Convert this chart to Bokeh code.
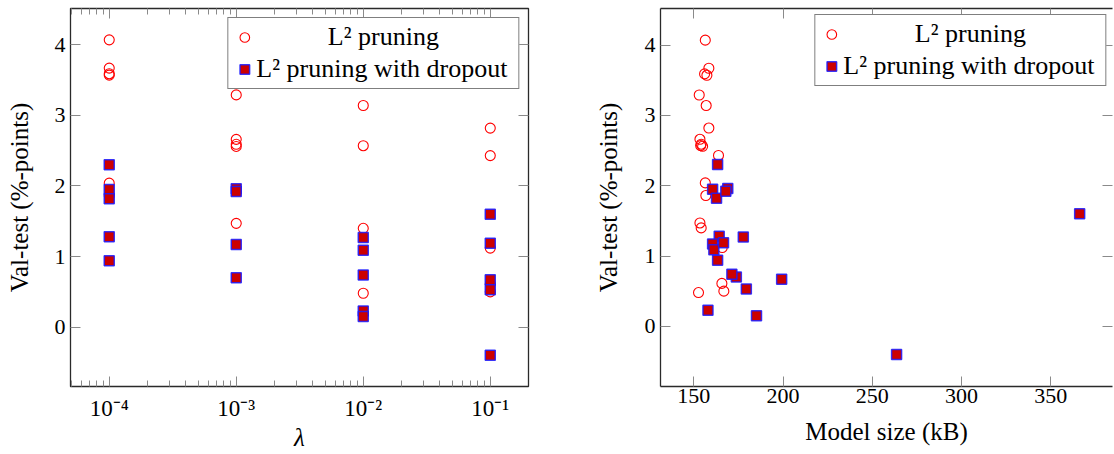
from bokeh.plotting import figure
from bokeh.models import (FixedTicker, LogAxis, LinearAxis, Legend, LegendItem,
                          ColumnDataSource)
from bokeh.layouts import row
from bokeh.embed import file_html
from bokeh.resources import INLINE

FONT = "Liberation Serif"

# ---------------- data ----------------
# L2 pruning (red hollow circles)
circ_lambda = [1e-4, 1e-4, 1e-4, 1e-4, 1e-4, 1e-4,
               1e-3, 1e-3, 1e-3, 1e-3, 1e-3,
               1e-2, 1e-2, 1e-2, 1e-2,
               1e-1, 1e-1, 1e-1, 1e-1, 1e-1]
circ_val = [4.07, 3.67, 3.59, 3.57, 2.04, 1.86,
            3.29, 2.66, 2.59, 2.56, 1.47,
            3.14, 2.57, 1.40, 0.48,
            2.82, 2.43, 1.12, 0.61, 0.50]
circ_size = [156.4, 158.4, 156.0, 157.3, 156.4, 156.7,
             153.0, 153.4, 154.1, 154.9, 153.4,
             156.9, 153.8, 154.1, 152.6,
             158.4, 163.8, 165.9, 165.7, 166.8]

# L2 pruning with dropout (red filled squares, blue edge)
sq_lambda = [1e-4, 1e-4, 1e-4, 1e-4, 1e-4,
             1e-3, 1e-3, 1e-3, 1e-3,
             1e-2, 1e-2, 1e-2, 1e-2, 1e-2,
             1e-1, 1e-1, 1e-1, 1e-1, 1e-1]
sq_val = [2.30, 1.95, 1.82, 1.28, 0.94,
          1.96, 1.92, 1.17, 0.70,
          1.27, 1.09, 0.74, 0.23, 0.15,
          1.60, 1.19, 0.67, 0.53, -0.40]
sq_size = [163.3, 160.5, 162.7, 164.2, 163.3,
           169.0, 167.9, 160.5, 173.8,
           177.7, 161.2, 171.3, 157.9, 185.1,
           366.2, 166.6, 199.2, 179.4, 263.6]

lam_ticks = [1e-4, 1e-3, 1e-2, 1e-1]
lam_tick_labels = ["10⁻⁴", "10⁻³", "10⁻²", "10⁻¹"]
size_ticks = [150, 200, 250, 300, 350]
val_ticks = [0, 1, 2, 3, 4]

label_circ = "L² pruning"
label_sq = "L² pruning with dropout"
y_label = "Val-test (%-points)"
x_label_left = "λ"
x_label_right = "Model size (kB)"

lam_minor = [m * 10.0 ** e for e in range(-5, 0) for m in range(2, 10)]

LAM_LO, LAM_HI = -4.305, -0.699          # log10 limits
SIZE_LO, SIZE_HI = 131.3, 384.6
VAL_LO, VAL_HI = -0.841, 4.514
VAL_LO2, VAL_HI2 = -0.856, 4.52

TICK_COLOR = "#8a8a8a"
FRAME_COLOR = "#2a2a2a"


def style_axis(ax, labels=True):
    ax.major_tick_in = 10
    ax.major_tick_out = 0
    ax.minor_tick_in = 6
    ax.minor_tick_out = 0
    ax.major_tick_line_color = TICK_COLOR
    ax.minor_tick_line_color = TICK_COLOR
    ax.major_tick_line_width = 1
    ax.minor_tick_line_width = 1
    if labels:
        ax.major_label_text_font = FONT
        ax.major_label_text_font_size = "22px"
        ax.major_label_text_color = "black"
        ax.axis_label_text_font = FONT
        ax.axis_label_text_font_size = "25px"
        ax.axis_label_text_font_style = "normal"
        ax.axis_label_text_color = "black"
    else:
        ax.major_label_text_font_size = "1px"
        ax.major_label_text_alpha = 0
        ax.major_label_standoff = 0


def make_legend(p, r1, r2, margin):
    pad = "\u00a0" * 11
    legend = Legend(items=[LegendItem(label=pad + label_circ, renderers=[r1]),
                           LegendItem(label=label_sq + "\u00a0", renderers=[r2])],
                    location="top_right")
    legend.margin = margin
    legend.padding = 4
    legend.spacing = 2
    legend.label_height = 30
    legend.glyph_height = 26
    legend.glyph_width = 24
    legend.label_standoff = 0
    legend.label_text_font = FONT
    legend.label_text_font_size = "26px"
    legend.label_text_color = "black"
    legend.border_line_color = "black"
    legend.border_line_width = 1
    legend.background_fill_color = "white"
    legend.background_fill_alpha = 1
    p.add_layout(legend)


def draw(p, xc, yc, xs, ys):
    src_c = ColumnDataSource(dict(x=xc, y=yc))
    src_s = ColumnDataSource(dict(x=xs, y=ys))
    r1 = p.scatter("x", "y", source=src_c, marker="circle", size=10,
                   fill_color=None, line_color="#ff0000", line_width=1.1)
    r2 = p.scatter("x", "y", source=src_s, marker="square", size=10,
                   fill_color="#cc0000", line_color="#1a1aff", line_width=1.5,
                   line_alpha=0.85)
    return r1, r2


# ---------------- left: lambda ----------------
p1 = figure(width=540, height=454, x_axis_type="log",
            x_range=(10 ** LAM_LO, 10 ** LAM_HI), y_range=(VAL_LO, VAL_HI),
            output_backend="svg", toolbar_location=None,
            min_border_left=70, min_border_right=12,
            min_border_top=8, min_border_bottom=66)
p1.xgrid.grid_line_color = None
p1.ygrid.grid_line_color = None
p1.outline_line_color = FRAME_COLOR
p1.outline_line_width = 1.3
p1.background_fill_color = "white"
p1.border_fill_color = "white"

p1.xaxis.ticker = FixedTicker(ticks=lam_ticks, minor_ticks=lam_minor)
p1.xaxis.major_label_overrides = dict(zip(lam_ticks, lam_tick_labels))
p1.yaxis.ticker = FixedTicker(ticks=val_ticks)
p1.xaxis.axis_label = x_label_left
p1.yaxis.axis_label = y_label
for ax in p1.xaxis + p1.yaxis:
    style_axis(ax)
    ax.axis_line_color = None
p1.xaxis.axis_label_text_font_style = "italic"
p1.xaxis.major_label_text_font_size = "23px"
p1.xaxis.major_label_standoff = 9
p1.xaxis.axis_label_standoff = 0
p1.yaxis.major_label_standoff = 5
p1.yaxis.axis_label_standoff = 19

top1 = LogAxis(ticker=FixedTicker(ticks=lam_ticks, minor_ticks=lam_minor))
style_axis(top1, labels=False)
top1.axis_line_color = None
p1.add_layout(top1, "above")
right1 = LinearAxis(ticker=FixedTicker(ticks=val_ticks))
style_axis(right1, labels=False)
right1.axis_line_color = None
p1.add_layout(right1, "right")

c1, s1 = draw(p1, circ_lambda, circ_val, sq_lambda, sq_val)
make_legend(p1, c1, s1, 9)

# ---------------- right: model size ----------------
p2 = figure(width=574, height=454,
            x_range=(SIZE_LO, SIZE_HI), y_range=(VAL_LO2, VAL_HI2),
            output_backend="svg", toolbar_location=None,
            min_border_left=120, min_border_right=2,
            min_border_top=5, min_border_bottom=68)
p2.xgrid.grid_line_color = None
p2.ygrid.grid_line_color = None
p2.outline_line_color = None
p2.background_fill_color = "white"
p2.border_fill_color = "white"

p2.xaxis.ticker = FixedTicker(ticks=size_ticks)
p2.yaxis.ticker = FixedTicker(ticks=val_ticks)
p2.xaxis.axis_label = x_label_right
p2.yaxis.axis_label = y_label
for ax in p2.xaxis + p2.yaxis:
    style_axis(ax)
    ax.axis_line_color = FRAME_COLOR
    ax.axis_line_width = 1.3
p2.xaxis.major_label_standoff = 2
p2.xaxis.axis_label_standoff = 12
p2.yaxis.major_label_standoff = 5
p2.yaxis.axis_label_standoff = 20

top2 = LinearAxis(ticker=FixedTicker(ticks=size_ticks))
style_axis(top2, labels=False)
top2.axis_line_color = FRAME_COLOR
top2.axis_line_width = 1.3
p2.add_layout(top2, "above")
right2 = LinearAxis(ticker=FixedTicker(ticks=val_ticks))
style_axis(right2, labels=False)
right2.axis_line_color = None
p2.add_layout(right2, "right")

c2, s2 = draw(p2, circ_size, circ_val, sq_size, sq_val)
make_legend(p2, c2, s2, 6)

layout = row(p1, p2)
open("out.html", "w").write(file_html(layout, INLINE))
